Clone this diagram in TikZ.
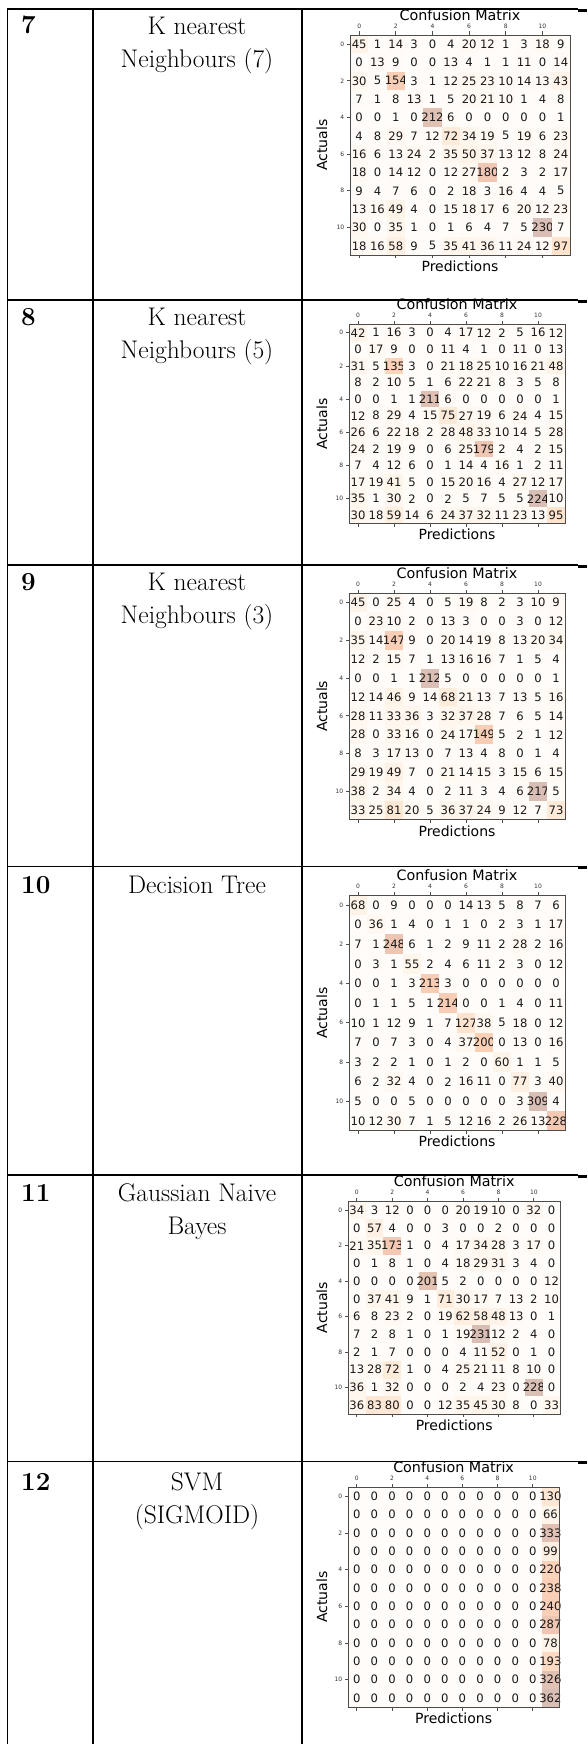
\documentclass[tikz,border=0pt]{standalone}
\usepackage{fontspec}
\newfontfamily\plotfont{DejaVu Sans}
% colour ramp of the heat map
\definecolor{om0}{HTML}{FFF5EB}
\definecolor{om1}{HTML}{FEE6CE}
\definecolor{om2}{HTML}{FDD0A2}
\definecolor{om3}{HTML}{FDAE6B}
\definecolor{om4}{HTML}{FD8D3C}
\definecolor{om5}{HTML}{F16913}
\definecolor{om6}{HTML}{D94801}
\definecolor{om7}{HTML}{A63603}
\definecolor{om8}{HTML}{7F2704}
% #1 tag, #2 left, #3 top, #4 cell width, #5 cell height, #6 largest value, #7 rows
\newcommand{\confmat}[7]{%
\foreach \mrow [count=\ci from 0] in {#7}{
  \foreach \val [count=\cj from 0] in \mrow{
    \pgfmathsetmacro\tpos{8*\val/#6}
    \pgfmathtruncatemacro\ka{min(floor(\tpos),7)}
    \pgfmathtruncatemacro\kb{\ka+1}
    \pgfmathsetmacro\fr{100*(1-\tpos+\ka)}
    \colorlet{cellc}{om\ka!\fr!om\kb}
    \fill[cellc!30!white] (#2+\cj*#4,#3+\ci*#5) rectangle ++(#4,#5);
    \node[cnum] (m#1-\ci-\cj) at (#2+\cj*#4+0.5*#4,#3+\ci*#5+0.5*#5) {\val};
  }
}
\draw[mframe] (#2,#3) rectangle ++(12*#4,12*#5);
\foreach \k in {0,2,...,10}{
  \draw[mframe] (#2+\k*#4+0.5*#4,#3) -- ++(0,-3.5);
  \draw[mframe] (#2+\k*#4+0.5*#4,#3+12*#5) -- ++(0,3.5);
  \draw[mframe] (#2,#3+\k*#5+0.5*#5) -- ++(-3.5,0);
  \node[ctick,anchor=south] (tx#1-\k) at (#2+\k*#4+0.5*#4,#3-6) {\k};
  \node[ctick,anchor=east] (ty#1-\k) at (#2-5,#3+\k*#5+0.5*#5) {\k};
}
\node[ctitle] (title#1) at (#2+6*#4,#3-20) {Confusion Matrix};
\node[clabel] (pred#1) at (#2+6*#4,#3+12*#5+11) {Predictions};
\node[clabel,rotate=90] (act#1) at (322,#3+6*#5) {Actuals};
}
\begin{document}
\begin{tikzpicture}[x=1pt,y=-1pt,
  tline/.style={line width=1.6pt},
  mframe/.style={draw=black!70,line width=0.8pt},
  cnum/.style={inner sep=0pt,text=black!90,font=\plotfont\fontsize{11.6}{12}\selectfont},
  ctick/.style={inner sep=0.5pt,text=black!80,font=\plotfont\fontsize{6}{7}\selectfont},
  ctitle/.style={inner sep=0pt,font=\plotfont\fontsize{14.3}{16}\selectfont},
  clabel/.style={inner sep=0pt,font=\plotfont\fontsize{14}{16}\selectfont},
  rnum/.style={anchor=base west,inner sep=0pt,font=\fontsize{26}{33}\selectfont\bfseries},
  rname/.style={anchor=north,align=center,inner sep=0pt,font=\fontsize{25.5}{33}\selectfont}]
\useasboundingbox (0,0) rectangle (587,1744);
% table rules
\draw[tline] (7.5,9.3) -- (7.5,1744);
\draw[tline] (92.7,9.3) -- (92.7,1744);
\draw[tline] (301.7,9.3) -- (301.7,1744);
\foreach \y in {9.3,300,565,866.5,1175,1461.5}{
  \draw[tline] (6.7,\y) -- (578,\y);
  \draw[line width=3pt] (578,\y+1) -- (587,\y+1);
}
% model column
\node[rnum] (n7) at (21,34) {7};
\node[rname] (name7) at (197,16.5) {K nearest\\Neighbours (7)};
\node[rnum] (n8) at (21,325) {8};
\node[rname] (name8) at (197,307.5) {K nearest\\Neighbours (5)};
\node[rnum] (n9) at (21,590) {9};
\node[rname] (name9) at (197,572.5) {K nearest\\Neighbours (3)};
\node[rnum] (n10) at (21,893) {10};
\node[rname] (name10) at (197,875.5) {Decision Tree};
\node[rnum] (n11) at (21,1201) {11};
\node[rname] (name11) at (197,1183) {Gaussian Naive\\Bayes};
\node[rnum] (n12) at (21,1490) {12};
\node[rname] (name12) at (197,1472.5) {SVM\\(SIGMOID)};
% confusion matrices
\confmat{7}{350}{35}{18.33}{18.33}{230}{
{45,1,14,3,0,4,20,12,1,3,18,9},
{0,13,9,0,0,13,4,1,1,11,0,14},
{30,5,154,3,1,12,25,23,10,14,13,43},
{7,1,8,13,1,5,20,21,10,1,4,8},
{0,0,1,0,212,6,0,0,0,0,0,1},
{4,8,29,7,12,72,34,19,5,19,6,23},
{16,6,13,24,2,35,50,37,13,12,8,24},
{18,0,14,12,0,12,27,180,2,3,2,17},
{9,4,7,6,0,2,18,3,16,4,4,5},
{13,16,49,4,0,15,18,17,6,20,12,23},
{30,0,35,1,0,1,6,4,7,5,230,7},
{18,16,58,9,5,35,41,36,11,24,12,97}}
\confmat{8}{349}{324.4}{18}{16.6}{224}{
{42,1,16,3,0,4,17,12,2,5,16,12},
{0,17,9,0,0,11,4,1,0,11,0,13},
{31,5,135,3,0,21,18,25,10,16,21,48},
{8,2,10,5,1,6,22,21,8,3,5,8},
{0,0,1,1,211,6,0,0,0,0,0,1},
{12,8,29,4,15,75,27,19,6,24,4,15},
{26,6,22,18,2,28,48,33,10,14,5,28},
{24,2,19,9,0,6,25,179,2,4,2,15},
{7,4,12,6,0,1,14,4,16,1,2,11},
{17,19,41,5,0,15,20,16,4,27,12,17},
{35,1,30,2,0,2,5,7,5,5,224,10},
{30,18,59,14,6,24,37,32,11,23,13,95}}
\confmat{9}{349}{593}{18}{18.9}{217}{
{45,0,25,4,0,5,19,8,2,3,10,9},
{0,23,10,2,0,13,3,0,0,3,0,12},
{35,14,147,9,0,20,14,19,8,13,20,34},
{12,2,15,7,1,13,16,16,7,1,5,4},
{0,0,1,1,212,5,0,0,0,0,0,1},
{12,14,46,9,14,68,21,13,7,13,5,16},
{28,11,33,36,3,32,37,28,7,6,5,14},
{28,0,33,16,0,24,17,149,5,2,1,12},
{8,3,17,13,0,7,13,4,8,0,1,4},
{29,19,49,7,0,21,14,15,3,15,6,15},
{38,2,34,4,0,2,11,3,4,6,217,5},
{33,25,81,20,5,36,37,24,9,12,7,73}}
\confmat{10}{349}{895.2}{18}{19.63}{309}{
{68,0,9,0,0,0,14,13,5,8,7,6},
{0,36,1,4,0,1,1,0,2,3,1,17},
{7,1,248,6,1,2,9,11,2,28,2,16},
{0,3,1,55,2,4,6,11,2,3,0,12},
{0,0,1,3,213,3,0,0,0,0,0,0},
{0,1,1,5,1,214,0,0,1,4,0,11},
{10,1,12,9,1,7,127,38,5,18,0,12},
{7,0,7,3,0,4,37,200,0,13,0,16},
{3,2,2,1,0,1,2,0,60,1,1,5},
{6,2,32,4,0,2,16,11,0,77,3,40},
{5,0,0,5,0,0,0,0,0,3,309,4},
{10,12,30,7,1,5,12,16,2,26,13,228}}
\confmat{11}{348}{1201.5}{17.7}{17.7}{231}{
{34,3,12,0,0,0,20,19,10,0,32,0},
{0,57,4,0,0,3,0,0,2,0,0,0},
{21,35,173,1,0,4,17,34,28,3,17,0},
{0,1,8,1,0,4,18,29,31,3,4,0},
{0,0,0,0,201,5,2,0,0,0,0,12},
{0,37,41,9,1,71,30,17,7,13,2,10},
{6,8,23,2,0,19,62,58,48,13,0,1},
{7,2,8,1,0,1,19,231,12,2,4,0},
{2,1,7,0,0,0,4,11,52,0,1,0},
{13,28,72,1,0,4,25,21,11,8,10,0},
{36,1,32,0,0,0,2,4,23,0,228,0},
{36,83,80,0,0,12,35,45,30,8,0,33}}
\confmat{12}{348}{1487.2}{17.6}{18.33}{362}{
{0,0,0,0,0,0,0,0,0,0,0,130},
{0,0,0,0,0,0,0,0,0,0,0,66},
{0,0,0,0,0,0,0,0,0,0,0,333},
{0,0,0,0,0,0,0,0,0,0,0,99},
{0,0,0,0,0,0,0,0,0,0,0,220},
{0,0,0,0,0,0,0,0,0,0,0,238},
{0,0,0,0,0,0,0,0,0,0,0,240},
{0,0,0,0,0,0,0,0,0,0,0,287},
{0,0,0,0,0,0,0,0,0,0,0,78},
{0,0,0,0,0,0,0,0,0,0,0,193},
{0,0,0,0,0,0,0,0,0,0,0,326},
{0,0,0,0,0,0,0,0,0,0,0,362}}
\end{tikzpicture}
\end{document}
